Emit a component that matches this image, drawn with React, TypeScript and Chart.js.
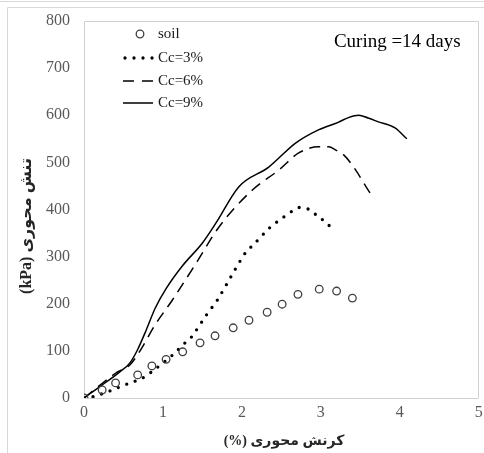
import { useEffect, useRef } from "react";
import { Chart, registerables } from "chart.js";

Chart.register(...registerables);

// ---- data ----
const soilX = [0, 0.23, 0.4, 0.68, 0.86, 1.04, 1.25, 1.47, 1.66, 1.89, 2.09, 2.32, 2.51, 2.71, 2.98, 3.2, 3.4];
const soilY = [0, 17, 32, 49, 68, 82, 98, 117, 132, 149, 165, 182, 199, 220, 231, 227, 212];

const cc3X = [0, 0.12, 0.33, 0.55, 0.74, 0.93, 1.12, 1.28, 1.36, 1.55, 1.69, 1.86, 2.04, 2.18, 2.35, 2.53, 2.72, 2.84, 2.93, 3.01, 3.1, 3.17];
const cc3Y = [0, 3, 15, 30, 42, 65, 91, 117, 129, 176, 208, 257, 307, 331, 361, 384, 404, 401, 390, 380, 367, 350];

const cc6X = [0, 0.2, 0.42, 0.58, 0.71, 0.9, 1.12, 1.42, 1.71, 2.13, 2.47, 2.72, 2.97, 3.1, 3.19, 3.29, 3.44, 3.6, 3.64];
const cc6Y = [0, 27, 55, 70, 100, 155, 208, 286, 363, 441, 484, 520, 533, 533, 526, 516, 484, 441, 431];

const cc9X = [0, 0.2, 0.45, 0.58, 0.68, 0.79, 0.9, 1.04, 1.25, 1.5, 1.67, 1.96, 2.34, 2.68, 2.97, 3.22, 3.35, 3.48, 3.6, 3.73, 3.94, 4.09];
const cc9Y = [0, 24, 55, 74, 103, 145, 190, 232, 281, 329, 371, 448, 490, 541, 569, 585, 595, 600, 594, 586, 573, 550];

const seriesNames = ["soil", "Cc=3%", "Cc=6%", "Cc=9%"];
const xTitle = "کرنش محوری (%)";
const yTitle = "تنش محوری (kPa)";
const noteText = "Curing =14 days";

const SERIF = "'Liberation Serif', 'Times New Roman', 'DejaVu Serif', serif";
const TITLE_FAMILY = "'Liberation Serif', 'DejaVu Sans', serif";

const toPts = (xs: number[], ys: number[]) => xs.map((x, i) => ({ x, y: ys[i] }));

const framePlugin = {
  id: "frame",
  beforeDraw(chart: any) {
    const ctx = chart.ctx;
    const a = chart.chartArea;
    ctx.save();
    ctx.fillStyle = "#ffffff";
    ctx.fillRect(0, 0, chart.width, chart.height);
    ctx.strokeStyle = "#d9d9d9";
    ctx.lineWidth = 1;
    ctx.beginPath();
    ctx.moveTo(0, 1.5);
    ctx.lineTo(chart.width, 1.5);
    ctx.moveTo(7.5, 7.5);
    ctx.lineTo(chart.width, 7.5);
    ctx.moveTo(7.5, 7.5);
    ctx.lineTo(7.5, chart.height);
    ctx.stroke();
    ctx.strokeStyle = "#d0d0d0";
    ctx.beginPath();
    ctx.rect(Math.round(a.left) + 0.5, Math.round(a.top) + 0.5, Math.round(a.right - a.left) - 1, Math.round(a.bottom - a.top));
    ctx.stroke();
    ctx.restore();
  },
  afterDraw(chart: any) {
    const { ctx, chartArea: a } = chart;
    ctx.save();
    // legend
    const lx0 = a.left + 39;
    const lx1 = a.left + 69;
    const tx = a.left + 74;
    const ys = [a.top + 13, a.top + 37, a.top + 60, a.top + 82];
    ctx.font = `15px ${SERIF}`;
    ctx.fillStyle = "#1a1a1a";
    ctx.textBaseline = "middle";
    ctx.textAlign = "left";
    seriesNames.forEach((n, i) => ctx.fillText(n, tx, ys[i]));
    // soil marker
    ctx.strokeStyle = "#404040";
    ctx.lineWidth = 1.3;
    ctx.beginPath();
    ctx.arc(a.left + 56, ys[0], 3.8, 0, Math.PI * 2);
    ctx.stroke();
    // dotted
    ctx.strokeStyle = "#000";
    ctx.lineCap = "round";
    ctx.lineWidth = 3.3;
    ctx.setLineDash([0, 9]);
    ctx.beginPath();
    ctx.moveTo(lx0 + 2, ys[1]);
    ctx.lineTo(lx1, ys[1]);
    ctx.stroke();
    // dashed
    ctx.lineCap = "butt";
    ctx.lineWidth = 1.5;
    ctx.setLineDash([11, 8]);
    ctx.beginPath();
    ctx.moveTo(lx0, ys[2]);
    ctx.lineTo(lx1, ys[2]);
    ctx.stroke();
    // solid
    ctx.setLineDash([]);
    ctx.beginPath();
    ctx.moveTo(lx0, ys[3]);
    ctx.lineTo(lx1, ys[3]);
    ctx.stroke();
    // note
    ctx.font = `19px ${SERIF}`;
    ctx.fillStyle = "#000";
    ctx.textAlign = "right";
    ctx.fillText(noteText, a.right - 18, a.top + 21);
    // axis titles
    ctx.fillStyle = "#262626";
    ctx.textAlign = "center";
    (ctx as any).direction = "rtl";
    ctx.font = `bold 14px ${TITLE_FAMILY}`;
    ctx.fillText(xTitle, 284, 441);
    ctx.font = `bold 16px ${TITLE_FAMILY}`;
    ctx.translate(27, 226);
    ctx.rotate(-Math.PI / 2);
    ctx.fillText(yTitle, 0, 0);
    ctx.restore();
  },
};

export default function App() {
  const ref = useRef<HTMLCanvasElement>(null);
  useEffect(() => {
    const canvas = ref.current!;
    const chart = new Chart(canvas, {
      type: "scatter",
      data: {
        datasets: [
          {
            label: seriesNames[0],
            data: toPts(soilX, soilY),
            showLine: false,
            pointStyle: "circle",
            pointRadius: 3.8,
            pointBorderWidth: 1.3,
            borderColor: "#404040",
            backgroundColor: "rgba(255,255,255,0)",
          },
          {
            label: seriesNames[1],
            data: toPts(cc3X, cc3Y),
            showLine: true,
            pointRadius: 0,
            borderColor: "#000",
            borderWidth: 3.3,
            borderDash: [0, 9],
            borderCapStyle: "round",
            tension: 0.25,
          },
          {
            label: seriesNames[2],
            data: toPts(cc6X, cc6Y),
            showLine: true,
            pointRadius: 0,
            borderColor: "#000",
            borderWidth: 1.5,
            borderDash: [11, 7],
            cubicInterpolationMode: "monotone",
          },
          {
            label: seriesNames[3],
            data: toPts(cc9X, cc9Y),
            showLine: true,
            pointRadius: 0,
            borderColor: "#000",
            borderWidth: 1.5,
            cubicInterpolationMode: "monotone",
          },
        ],
      } as any,
      options: {
        responsive: false,
        animation: false,
        events: [],
        layout: { padding: { left: 0, right: 3, top: 21, bottom: 0 } },
        plugins: { legend: { display: false }, tooltip: { enabled: false } },
        scales: {
          x: {
            type: "linear",
            min: 0,
            max: 5,
            ticks: { stepSize: 1, padding: 5, color: "#595959", font: { family: SERIF, size: 16 } },
            grid: { display: false, drawTicks: false },
            border: { display: false },
            afterFit: (s: any) => {
              s.height = 55;
              s.paddingLeft = 0;
              s.paddingRight = 0;
            },
          },
          y: {
            type: "linear",
            min: 0,
            max: 800,
            ticks: { stepSize: 100, padding: 14, color: "#595959", font: { family: SERIF, size: 16 } },
            grid: { display: false, drawTicks: false },
            border: { display: false },
            afterFit: (s: any) => {
              s.width = 84;
              s.paddingTop = 0;
              s.paddingBottom = 0;
            },
          },
        },
      } as any,
      plugins: [framePlugin],
    });
    return () => chart.destroy();
  }, []);
  return (
    <div style={{ position: "absolute", left: 0, top: 0, width: 484, height: 453 }}>
      <canvas ref={ref} width={484} height={453} style={{ display: "block" }} />
    </div>
  );
}
